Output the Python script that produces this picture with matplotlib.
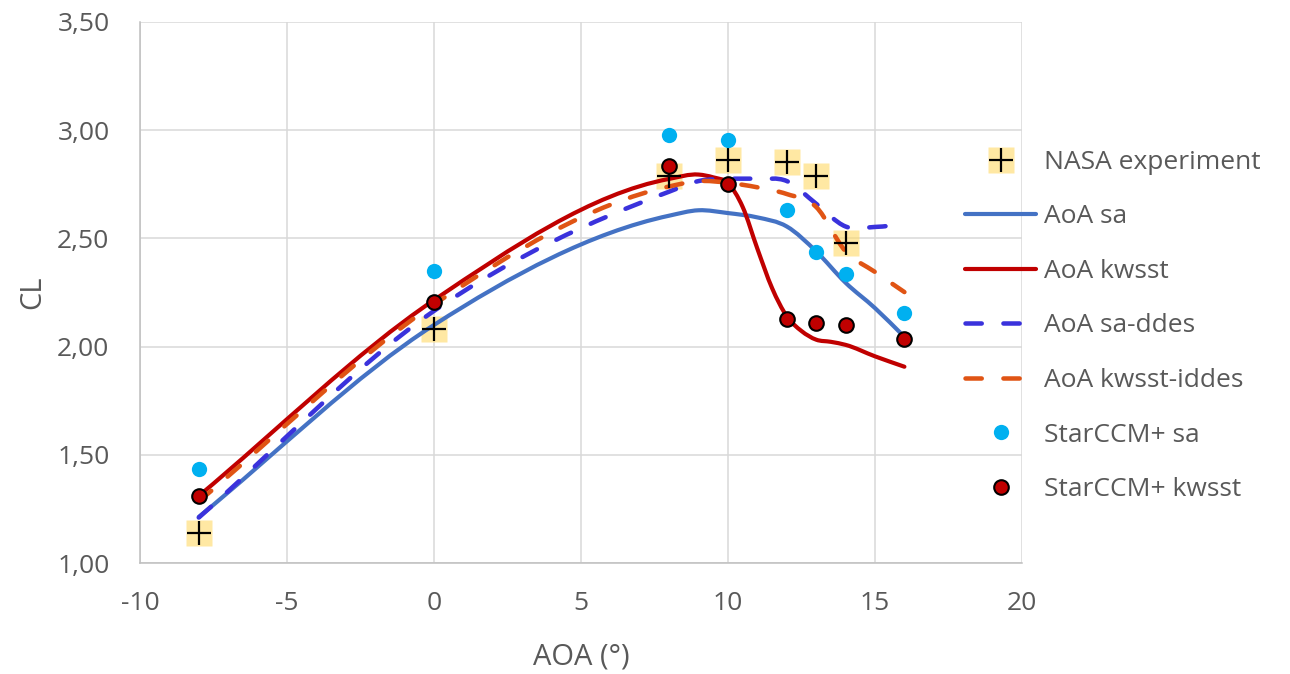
import numpy as np
import matplotlib
matplotlib.use("Agg")
import matplotlib.pyplot as plt
from matplotlib.path import Path
from matplotlib.patches import PathPatch
from matplotlib.lines import Line2D
from matplotlib.ticker import FuncFormatter

plt.rcParams['font.family'] = ['Open Sans', 'DejaVu Sans']
plt.rcParams['axes.unicode_minus'] = False

# NASA experiment
aoa_nasa = [-8, 0, 8, 10, 12, 13, 14]
cl_nasa = [1.14, 2.08, 2.79, 2.86, 2.855, 2.79, 2.48]

# StarCCM+ points
aoa_star = [-8, 0, 8, 10, 12, 13, 14, 16]
cl_star_sa = [1.435, 2.35, 2.98, 2.955, 2.63, 2.435, 2.335, 2.155]
cl_star_kwsst = [1.31, 2.205, 2.835, 2.75, 2.128, 2.108, 2.10, 2.033]

# AoA curves
aoa_line = [-8, 0, 8, 9, 10, 11, 12, 13, 14, 15, 16]
cl_sa = [1.213, 2.10, 2.605, 2.63, 2.617, 2.597, 2.555, 2.44, 2.295, 2.178, 2.045]
cl_sa_ddes = [1.21, 2.165, 2.716, 2.765, 2.775, 2.775, 2.765, 2.66, 2.555, 2.553, 2.565]
cl_kwsst_iddes = [1.285, 2.195, 2.74, 2.765, 2.757, 2.736, 2.705, 2.645, 2.44, 2.345, 2.252]
# kwsst curve read at a finer step around the stall
aoa_kwsst = [-8, 0, 8, 9, 9.5, 10, 10.5, 11, 11.5, 12, 12.5, 13, 13.5, 14, 15, 16]
cl_kwsst = [1.31, 2.215, 2.775, 2.795, 2.782, 2.755, 2.645, 2.452, 2.27, 2.14, 2.072,
            2.032, 2.022, 2.008, 1.955, 1.907]

grey_txt = '#595959'
grid_col = '#D9D9D9'


def smooth_path(x, y):
    # smoothed line as cubic bezier segments (Hermite tangents, uneven spacing)
    x = np.asarray(x, float)
    y = np.asarray(y, float)
    n = len(x)
    h = np.diff(x)
    s = np.diff(y) / h
    m = np.empty(n)
    m[0], m[-1] = s[0], s[-1]
    for i in range(1, n - 1):
        m[i] = (s[i - 1] * h[i] + s[i] * h[i - 1]) / (h[i - 1] + h[i])
    verts = [(x[0], y[0])]
    codes = [Path.MOVETO]
    for i in range(n - 1):
        verts += [(x[i] + h[i] / 3, y[i] + m[i] * h[i] / 3),
                  (x[i + 1] - h[i] / 3, y[i + 1] - m[i + 1] * h[i] / 3),
                  (x[i + 1], y[i + 1])]
        codes += [Path.CURVE4] * 3
    return Path(verts, codes)


fig = plt.figure(figsize=(12.9, 6.74), dpi=100)
ax = fig.add_axes([140 / 1290, 1 - 563 / 674, 882 / 1290, 541 / 674])

ax.set_xlim(-10, 20)
ax.set_ylim(1.0, 3.5)
ax.set_xticks(range(-10, 21, 5))
ax.set_yticks(np.arange(1.0, 3.51, 0.5))
ax.yaxis.set_major_formatter(FuncFormatter(lambda v, p: f'{v:.2f}'.replace('.', ',')))
ax.grid(True, color=grid_col, lw=1.1, zorder=0)
ax.set_axisbelow(True)
for s in ['top', 'right']:
    ax.spines[s].set_visible(False)
for s in ['left', 'bottom']:
    ax.spines[s].set_color('#BFBFBF')
    ax.spines[s].set_linewidth(1.1)
ax.tick_params(length=0, labelsize=19, colors=grey_txt)
ax.tick_params(axis='y', pad=22)
ax.tick_params(axis='x', pad=20)

# NASA experiment markers
sq_style = dict(ls='none', marker='s', ms=18.5, mfc='#FFD966', mec='none', alpha=0.6)
cr_style = dict(ls='none', marker='+', ms=17, mec='black', mew=1.6)
ax.plot(aoa_nasa, cl_nasa, zorder=2, **sq_style)
ax.plot(aoa_nasa, cl_nasa, zorder=3.5, **cr_style)

# smoothed lines
line_specs = [
    (aoa_line, cl_sa, '#4472C4', 'solid', 3.0, 'AoA sa'),
    (aoa_kwsst, cl_kwsst, '#C00000', 'solid', 3.0, 'AoA kwsst'),
    (aoa_line, cl_sa_ddes, '#3A32DC', (0, (3.6, 4.8)), 3.25, 'AoA sa-ddes'),
    (aoa_line, cl_kwsst_iddes, '#E05414', (0, (3.6, 4.8)), 3.25, 'AoA kwsst-iddes'),
]
handles = [(Line2D([], [], **sq_style), Line2D([], [], **cr_style))]
labels = ['NASA experiment']
for xs, vals, col, ls, lw, lab in line_specs:
    patch = PathPatch(smooth_path(xs, vals), fill=False, edgecolor=col,
                      lw=lw, linestyle=ls, capstyle='round', zorder=3)
    ax.add_patch(patch)
    handles.append(Line2D([], [], color=col, lw=lw, ls=ls,
                          dash_capstyle='round', solid_capstyle='round'))
    labels.append(lab)

sa_style = dict(ls='none', marker='o', ms=11, mfc='#00B0F0', mec='none')
kw_style = dict(ls='none', marker='o', ms=10.5, mfc='#C00000', mec='black', mew=1.5)
ax.plot(aoa_star, cl_star_sa, zorder=4, **sa_style)
ax.plot(aoa_star, cl_star_kwsst, zorder=4, **kw_style)
handles += [Line2D([], [], **sa_style), Line2D([], [], **kw_style)]
labels += ['StarCCM+ sa', 'StarCCM+ kwsst']

ax.set_xlabel('AOA (°)', fontsize=21, color=grey_txt)
ax.set_ylabel('CL', fontsize=21, color=grey_txt)
ax.xaxis.set_label_coords(0.5, (563 - 657) / 541)
ax.xaxis.label.set_va('center')
ax.yaxis.set_label_coords((33 - 140) / 882, (563 - 292) / 541)
ax.yaxis.label.set_va('center')

fig.legend(handles, labels, loc='center left', bbox_to_anchor=(965 / 1290, 1 - 326 / 674),
           frameon=False, fontsize=19, labelcolor=grey_txt, handlelength=2.7,
           handletextpad=0.3, labelspacing=1.12, borderpad=0, borderaxespad=0)

fig.savefig('out.png', dpi=100)
